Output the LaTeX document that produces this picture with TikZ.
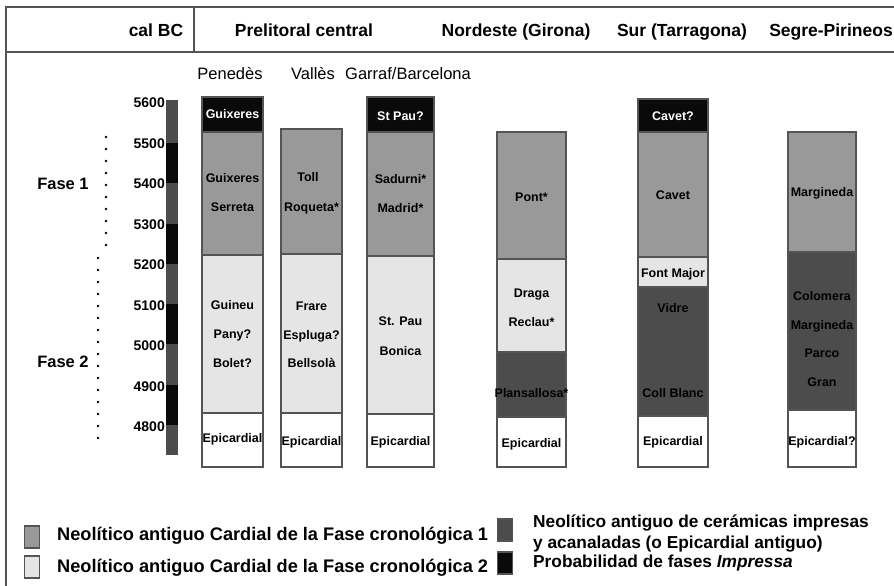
\documentclass[tikz,border=0pt]{standalone}
\usepackage{fontspec}
\setmainfont{Liberation Sans}
\usetikzlibrary{calc}
\definecolor{faseuno}{gray}{0.6}
\definecolor{fasedos}{gray}{0.9}
\definecolor{epiant}{gray}{0.3}
\definecolor{impressa}{gray}{0.04}
\definecolor{marco}{gray}{0.33}
\tikzset{
  tramo/.style={line width=1.4pt, draw=marco},
  yac/.style={font=\bfseries\fontsize{12.5}{13}\selectfont, inner sep=0pt, anchor=base, yshift=-4.5pt},
  cabeza/.style={font=\bfseries\fontsize{17.5}{18}\selectfont, inner sep=0pt, anchor=base},
  subcab/.style={font=\fontsize{16.5}{17}\selectfont, inner sep=0pt, anchor=base},
  leyenda/.style={font=\bfseries\fontsize{18.2}{21}\selectfont, inner sep=0pt, anchor=west, align=left},
  leyendab/.style={leyenda, font=\bfseries\fontsize{17.3}{21}\selectfont},
  cuadro/.style={line width=1.2pt, draw=marco, minimum width=15pt, minimum height=22pt, inner sep=0pt},
  puntos/.style={line width=2.6pt, line cap=round, dash pattern=on 0pt off 12pt}
}
\newcommand{\tramocol}[5]{\draw[tramo,fill=#5] ( #1 , #2 ) rectangle ( #3 , #4 );}
\newcommand{\yac}[5]{\node[yac,text=#5] (#1) at ( #2 , #3 ) {#4};}

\begin{document}
\begin{tikzpicture}[x=1pt, y=-1pt]
        \useasboundingbox (0,0) rectangle (894,586);
        \fill[white] (0,0) rectangle (894,586);
        % frame
        \draw[line width=2pt, draw=marco] (6,586) -- (6,7) -- (894,7);
        \draw[line width=2pt, draw=marco] (6,52) -- (894,52);
        \draw[line width=1.5pt, draw=marco] (194,7) -- (194,52);
        % headers
        \node[cabeza] (calbc) at (156,36.5) {cal BC};
        \node[cabeza] (prelit) at (304,36.5) {Prelitoral central};
        \node[cabeza] (nordeste) at (516,36.5) {Nordeste (Girona)};
        \node[cabeza] (sur) at (682,36.5) {Sur (Tarragona)};
        \node[cabeza] (segre) at (831,36.5) {Segre-Pirineos};
        \node[subcab] (penedes) at (230,80) {Penedès};
        \node[subcab] (valles) at (313,80) {Vallès};
        \node[subcab] (garraf) at (408,80) {Garraf/Barcelona};
        % time bar
        \foreach \ya/\yb/\c in {100/143/epiant, 143/183/impressa, 183/224/epiant,
            224/264/impressa, 264/304/epiant, 304/344/impressa, 344/385/epiant,
            385/425/impressa, 425/455/epiant}
            \fill[\c] (166,\ya) rectangle (178,\yb);
        \foreach \yr in {5600,5500,...,4800}
            \node[font=\bfseries\fontsize{14}{14}\selectfont, inner sep=0pt, anchor=east]
                (t\yr) at (165,{103+(5600-\yr)*0.405}) {\yr};
        % phases
        \node[font=\bfseries\fontsize{16.5}{16}\selectfont, inner sep=0pt] (fase1) at (63,184) {Fase 1};
        \node[font=\bfseries\fontsize{16.5}{16}\selectfont, inner sep=0pt] (fase2) at (63,362) {Fase 2};
        \draw[puntos] (106,137) -- (106,250);
        \draw[puntos] (98,258) -- (98,446);
        % Penedes
        \tramocol{202}{97}{263}{132}{impressa}
        \tramocol{202}{132}{263}{255}{faseuno}
        \tramocol{202}{255}{263}{413}{fasedos}
        \tramocol{202}{413}{263}{467}{white}
        \yac{pen1}{232.5}{114}{Guixeres}{white}
        \yac{pen2}{232.5}{178}{Guixeres}{black}
        \yac{pen3}{232.5}{207}{Serreta}{black}
        \yac{pen4}{232.5}{305}{Guineu}{black}
        \yac{pen5}{232.5}{334}{Pany?}{black}
        \yac{pen6}{232.5}{363}{Bolet?}{black}
        \yac{pen7}{232.5}{438}{Epicardial}{black}
        % Valles
        \tramocol{281}{129}{342}{254}{faseuno}
        \tramocol{281}{254}{342}{413}{fasedos}
        \tramocol{281}{413}{342}{467}{white}
        \yac{val1}{308}{177}{Toll}{black}
        \yac{val2}{311.5}{207}{Roqueta*}{black}
        \yac{val3}{311.5}{306}{Frare}{black}
        \yac{val4}{311.5}{335}{Espluga?}{black}
        \yac{val5}{311.5}{363}{Bellsolà}{black}
        \yac{val6}{311.5}{441}{Epicardial}{black}
        % Garraf / Barcelona
        \tramocol{367}{97}{434}{132}{impressa}
        \tramocol{367}{132}{434}{256}{faseuno}
        \tramocol{367}{256}{434}{414}{fasedos}
        \tramocol{367}{414}{434}{467}{white}
        \yac{gar1}{400.5}{116}{St Pau?}{white}
        \yac{gar2}{400.5}{179}{Sadurni*}{black}
        \yac{gar3}{400.5}{208}{Madrid*}{black}
        \yac{gar4}{400.5}{321}{St. Pau}{black}
        \yac{gar5}{400.5}{351}{Bonica}{black}
        \yac{gar6}{400.5}{441}{Epicardial}{black}
        % Nordeste
        \tramocol{497}{132}{566}{259}{faseuno}
        \tramocol{497}{259}{566}{352}{fasedos}
        \tramocol{497}{352}{566}{417}{epiant}
        \tramocol{497}{417}{566}{467}{white}
        \yac{nor1}{531.5}{197}{Pont*}{black}
        \yac{nor2}{531.5}{293}{Draga}{black}
        \yac{nor3}{531.5}{322}{Reclau*}{black}
        \yac{nor4}{531.5}{393}{Plansallosa*}{black}
        \yac{nor5}{531.5}{443}{Epicardial}{black}
        % Sur
        \tramocol{638}{99}{708}{132}{impressa}
        \tramocol{638}{132}{708}{257}{faseuno}
        \tramocol{638}{257}{708}{287}{fasedos}
        \tramocol{638}{287}{708}{416}{epiant}
        \tramocol{638}{416}{708}{467}{white}
        \yac{sur1}{673}{116}{Cavet?}{white}
        \yac{sur2}{673}{195}{Cavet}{black}
        \yac{sur3}{673}{273}{Font Major}{black}
        \yac{sur4}{673}{308}{Vidre}{black}
        \yac{sur5}{673}{393}{Coll Blanc}{black}
        \yac{sur6}{673}{441}{Epicardial}{black}
        % Segre-Pirineos
        \tramocol{788}{132}{856}{252}{faseuno}
        \tramocol{788}{252}{856}{410}{epiant}
        \tramocol{788}{410}{856}{467}{white}
        \yac{seg1}{822}{192}{Margineda}{black}
        \yac{seg2}{822}{296}{Colomera}{black}
        \yac{seg3}{822}{325}{Margineda}{black}
        \yac{seg4}{822}{353}{Parco}{black}
        \yac{seg5}{822}{382}{Gran}{black}
        \yac{seg6}{822}{441}{Epicardial?}{black}
        % legend
        \node[cuadro, fill=faseuno] (ley1) at (32,537) {};
        \node[leyenda] (txt1) at (57,536) {Neolítico antiguo Cardial de la Fase cronológica 1};
        \node[cuadro, fill=fasedos] (ley2) at (32,567) {};
        \node[leyenda] (txt2) at (57,568) {Neolítico antiguo Cardial de la Fase cronológica 2};
        \node[cuadro, fill=epiant] (ley3) at (505,530) {};
        \node[leyendab] (txt3) at (533,533) {Neolítico antiguo de cerámicas impresas\\y acanaladas (o Epicardial antiguo)};
        \node[cuadro, fill=impressa] (ley4) at (505,563) {};
        \node[leyendab] (txt4) at (533,563) {Probabilidad de fases \textit{Impressa}};
\end{tikzpicture}
\end{document}
